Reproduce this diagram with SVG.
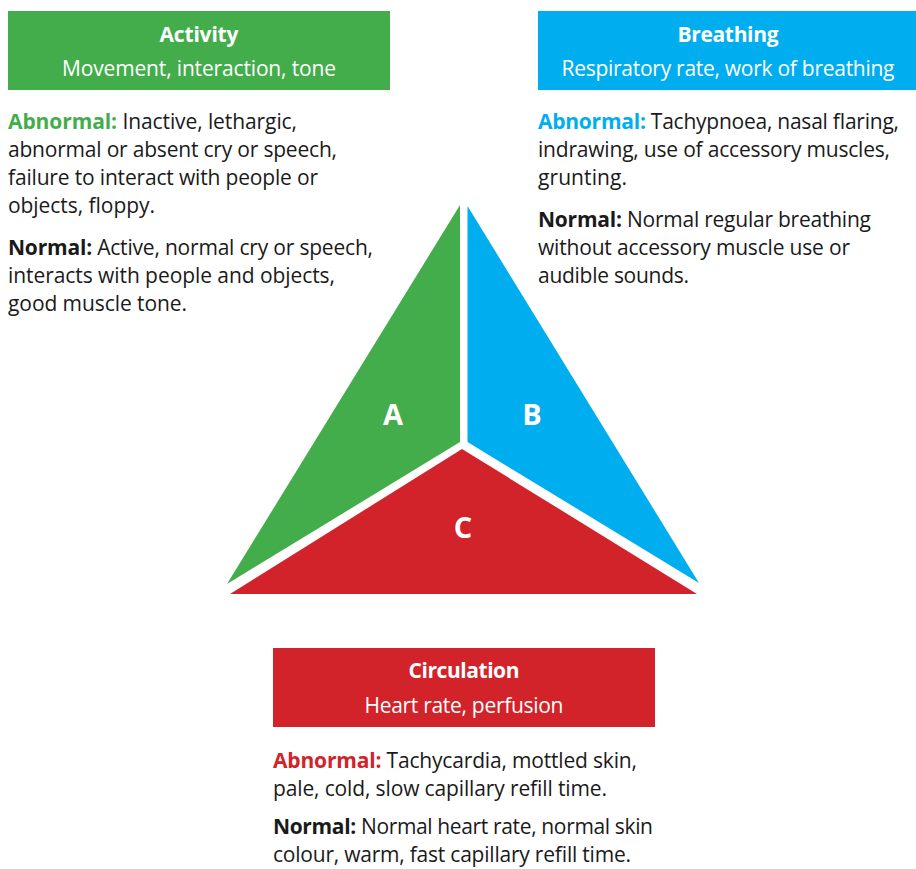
<svg xmlns="http://www.w3.org/2000/svg" width="916" height="869" viewBox="0 0 916 869">
<style>
text{font-family:"Open Sans","Noto Sans","Liberation Sans",sans-serif;}
.hd{font-size:21px;font-weight:700;fill:#fff;text-anchor:middle;}
.sub{font-size:21px;fill:#fff;text-anchor:middle;}
.body{font-size:21px;fill:#1a1a1a;}
.b{font-weight:700;}
.g{fill:#43ad4b;}
.bl{fill:#00aeef;}
.r{fill:#d2232a;}
.lbl{font-size:29px;font-weight:700;fill:#fff;text-anchor:middle;}
</style>
<rect width="916" height="869" fill="#fff"/>
<g id="triangle">
<polygon points="460,205 460,442 227,584" fill="#43ad4b"/>
<polygon points="467.5,206 467.5,442 699,583" fill="#00aeef"/>
<polygon points="462,449 230,594 697,594" fill="#d2232a"/>
<text class="lbl" x="393" y="425">A</text>
<text class="lbl" x="532" y="425">B</text>
<text class="lbl" x="463" y="538">C</text>
</g>
<g id="activity">
<rect x="8" y="11" width="382" height="79" fill="#43ad4b"/>
<text class="hd" x="199" y="42" textLength="79">Activity</text>
<text class="sub" x="199" y="76" textLength="274">Movement, interaction, tone</text>
<text class="body" x="8" y="129" textLength="289"><tspan class="b g">Abnormal:</tspan> Inactive, lethargic,</text>
<text class="body" x="8" y="157" textLength="329">abnormal or absent cry or speech,</text>
<text class="body" x="8" y="185" textLength="310">failure to interact with people or</text>
<text class="body" x="8" y="213" textLength="147">objects, floppy.</text>
<text class="body" x="8" y="255" textLength="365"><tspan class="b">Normal:</tspan> Active, normal cry or speech,</text>
<text class="body" x="8" y="283" textLength="327">interacts with people and objects,</text>
<text class="body" x="8" y="311" textLength="179">good muscle tone.</text>
</g>
<g id="breathing">
<rect x="538" y="11" width="378" height="79" fill="#00aeef"/>
<text class="hd" x="728" y="42" textLength="101">Breathing</text>
<text class="sub" x="728" y="76" textLength="333">Respiratory rate, work of breathing</text>
<text class="body" x="538" y="129" textLength="361"><tspan class="b bl">Abnormal:</tspan> Tachypnoea, nasal flaring,</text>
<text class="body" x="538" y="157" textLength="352">indrawing, use of accessory muscles,</text>
<text class="body" x="538" y="185" textLength="89">grunting.</text>
<text class="body" x="538" y="227" textLength="333"><tspan class="b">Normal:</tspan> Normal regular breathing</text>
<text class="body" x="538" y="255" textLength="312">without accessory muscle use or</text>
<text class="body" x="538" y="283" textLength="151">audible sounds.</text>
</g>
<g id="circulation">
<rect x="273" y="648" width="382" height="79" fill="#d2232a"/>
<text class="hd" x="464" y="678" textLength="111">Circulation</text>
<text class="sub" x="464" y="713" textLength="199">Heart rate, perfusion</text>
<text class="body" x="273" y="768" textLength="364"><tspan class="b r">Abnormal:</tspan> Tachycardia, mottled skin,</text>
<text class="body" x="273" y="796" textLength="334">pale, cold, slow capillary refill time.</text>
<text class="body" x="273" y="834" textLength="380"><tspan class="b">Normal:</tspan> Normal heart rate, normal skin</text>
<text class="body" x="273" y="862" textLength="358">colour, warm, fast capillary refill time.</text>
</g>
<g id="connectors"></g>
</svg>
